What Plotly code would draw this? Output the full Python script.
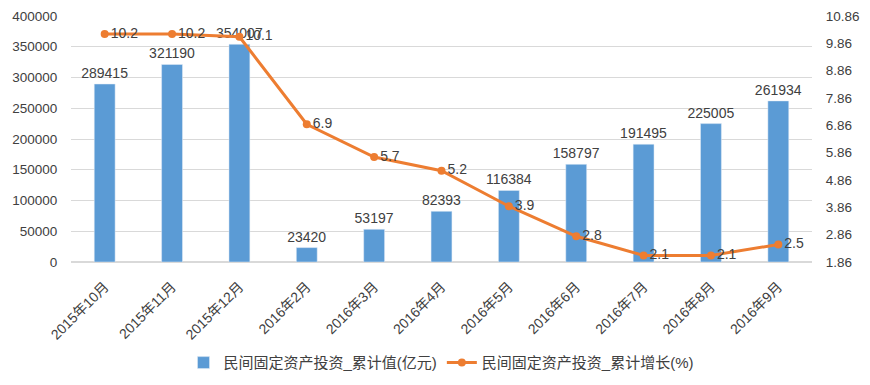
import plotly.graph_objects as go

categories = ["2015年10月", "2015年11月", "2015年12月", "2016年2月", "2016年3月", "2016年4月",
              "2016年5月", "2016年6月", "2016年7月", "2016年8月", "2016年9月"]
cum_value = [289415, 321190, 354007, 23420, 53197, 82393, 116384, 158797, 191495, 225005, 261934]
cum_growth = [10.2, 10.2, 10.1, 6.9, 5.7, 5.2, 3.9, 2.8, 2.1, 2.1, 2.5]
left_ticks = [0, 50000, 100000, 150000, 200000, 250000, 300000, 350000, 400000]
right_ticks = [1.86, 2.86, 3.86, 4.86, 5.86, 6.86, 7.86, 8.86, 9.86, 10.86]

FONT = "Liberation Sans, Noto Sans CJK SC, sans-serif"
TXT = "#404040"

fig = go.Figure()
fig.add_trace(go.Bar(
    x=categories, y=cum_value, name="民间固定资产投资_累计值(亿元)",
    marker=dict(color="#5B9BD5"),
    text=[str(v) for v in cum_value], textposition="outside", constraintext="none",
    textfont=dict(size=14, color=TXT, family=FONT), cliponaxis=False,
))
fig.add_trace(go.Scatter(
    x=categories, y=cum_growth, name="民间固定资产投资_累计增长(%)", yaxis="y2",
    mode="lines+markers+text",
    line=dict(color="#ED7D31", width=3),
    marker=dict(color="#ED7D31", size=8),
    text=[str(v) for v in cum_growth], textposition="middle right",
    textfont=dict(size=14, color=TXT, family=FONT), cliponaxis=False,
))

fig.update_layout(
    width=870, height=385,
    margin=dict(l=71, r=58, t=16, b=123, autoexpand=False),
    paper_bgcolor="white", plot_bgcolor="white",
    font=dict(family=FONT, color=TXT, size=13),
    bargap=0.69,
    showlegend=True,
    legend=dict(orientation="h", x=0.5, xanchor="center", y=-0.41, yanchor="middle",
                font=dict(size=15, color=TXT), itemwidth=30),
    xaxis=dict(range=[-0.5, len(categories) - 0.5], tickangle=-45, showgrid=False, showline=False,
               ticks="outside", tickcolor="white",
               ticklen=10, automargin=False, tickfont=dict(size=14, color=TXT)),
    yaxis=dict(range=[0, 400000], tickvals=left_ticks, ticktext=[str(t) for t in left_ticks],
               showgrid=True, gridcolor="#D9D9D9", zeroline=True, zerolinecolor="#D9D9D9",
               tickfont=dict(size=13.5, color=TXT), ticks="outside", tickcolor="white", ticklen=10,
               automargin=False),
    yaxis2=dict(range=[1.86, 10.86], tickvals=right_ticks, ticktext=[f"{t:.2f}" for t in right_ticks],
                overlaying="y", side="right", showgrid=False, zeroline=False, automargin=False,
                ticks="outside", tickcolor="white", ticklen=10,
                tickfont=dict(size=13.5, color=TXT)),
)

fig.write_html("out.html", config={"displayModeBar": False},
               post_script="document.body.style.margin='0';document.body.style.overflow='hidden';")
